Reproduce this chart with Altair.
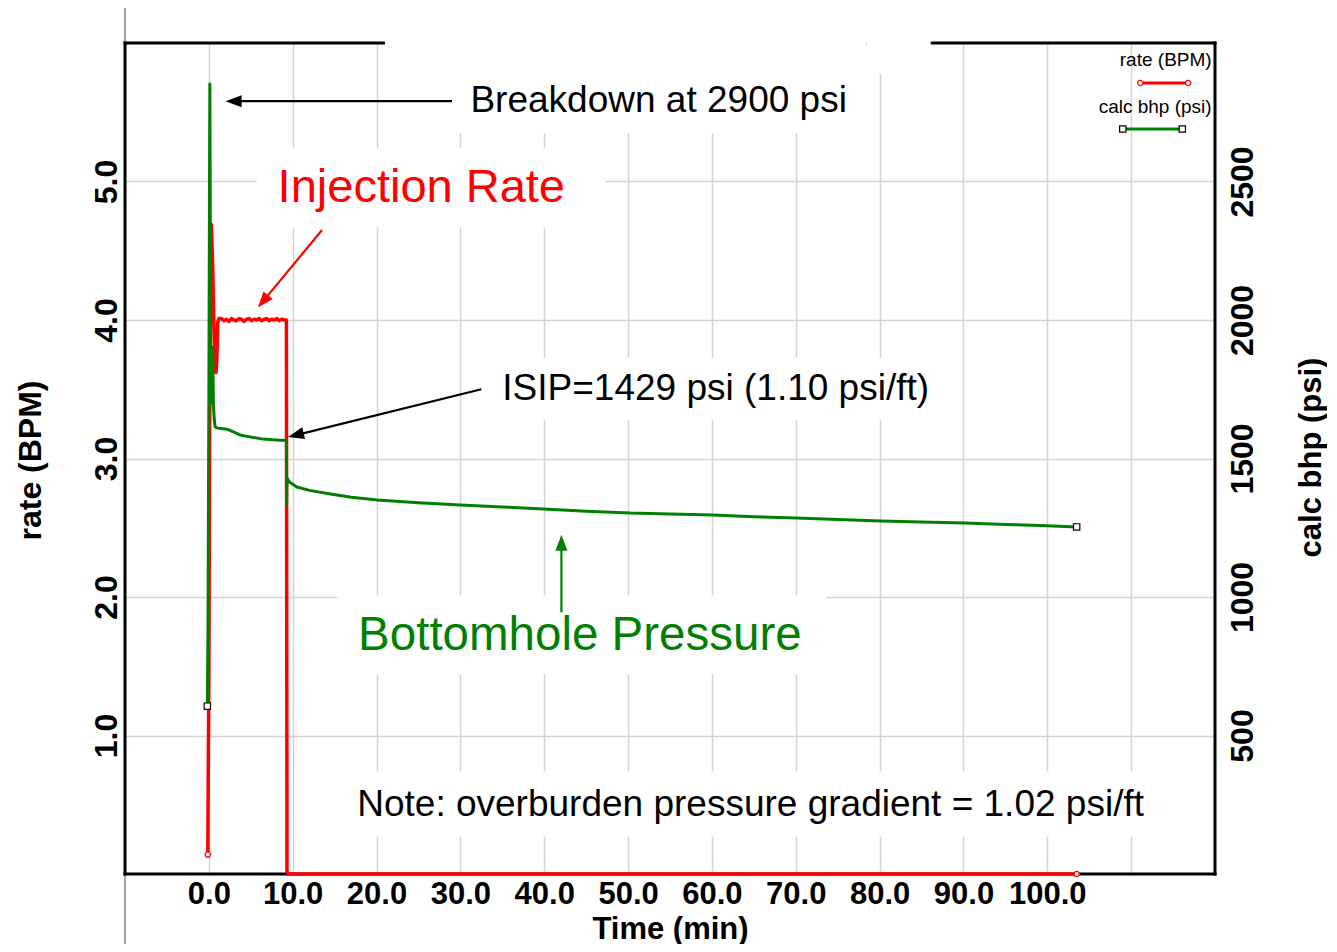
import math
import altair as alt
import pandas as pd

FONT = "Liberation Sans"
RED = "#ff0000"
GREEN = "#008000"
GRID = "#d4d4d4"

W, H = 1090, 831
T_MIN, T_MAX = -10, 120
R_MAX = 6.0
P_MAX = 3000

# ---------------- data ----------------
rate_t = [-0.12, -0.08, 0.0, 0.10, 0.20, 0.30, 0.45, 0.60, 0.75, 0.85, 0.95, 1.05, 1.2,
          1.5, 1.8, 2.1, 2.4, 2.7, 3.0, 3.3, 3.6, 3.9, 4.2, 4.5, 4.8, 5.1, 5.4, 5.7,
          6.0, 6.3, 6.6, 6.9, 7.2, 7.5, 7.8, 8.1, 8.4, 8.7, 9.0, 9.25, 9.32, 9.45, 9.6,
          103.5]
rate_v = [0.14, 0.65, 1.40, 3.20, 4.40, 4.69, 4.40, 3.95, 3.65, 3.62, 3.70, 3.98, 4.01,
          4.01, 3.995, 4.005, 3.99, 4.01, 4.00, 3.995, 4.01, 4.005, 3.99, 4.005, 4.01, 3.995, 4.005, 4.00,
          4.01, 3.995, 4.005, 4.01, 3.995, 4.005, 4.00, 4.01, 3.995, 4.005, 4.00, 4.00, 0.02, 0.0, 0.0,
          0.0]

bhp_t = [-0.18, -0.10, 0.0, 0.08, 0.12, 0.16, 0.22, 0.30, 0.38, 0.45, 0.55, 0.65, 0.75,
         1.0, 2.15, 3.0, 3.7, 4.9, 6.45, 8.0, 9.25, 9.28, 9.32, 9.6, 10.5, 12.0, 14.5,
         17.0, 20.1, 25.0, 30.0, 35.0, 39.9, 45.0, 50.3, 55.0, 60.1, 65.0, 70.1, 75.0,
         80.2, 85.0, 90.2, 95.0, 100.0, 103.5]
bhp_v = [606, 900, 1700, 2500, 2852, 2500, 1800, 1700, 1750, 1902, 1690, 1640, 1614,
         1610, 1606, 1595, 1585, 1578, 1570, 1567, 1565, 1332, 1430, 1415, 1397, 1385, 1372,
         1360, 1350, 1340, 1332, 1325, 1318, 1310, 1303, 1300, 1296, 1290, 1285, 1280,
         1274, 1271, 1267, 1262, 1257, 1253]

x_ticks = [0, 10, 20, 30, 40, 50, 60, 70, 80, 90, 100, 110]
rate_ticks = [1, 2, 3, 4, 5]
bhp_ticks = [500, 1000, 1500, 2000, 2500]

# annotation texts (position in time / rate units)
ann_text = ["Breakdown at 2900 psi", "Injection Rate", "ISIP=1429 psi (1.10 psi/ft)",
            "Bottomhole Pressure", "Note: overburden pressure gradient = 1.02 psi/ft"]
ann_t = [31.2, 8.2, 35.0, 17.8, 17.7]
ann_r = [5.58, 4.95, 3.50, 1.72, 0.50]
ann_size = [37, 47, 37, 47.5, 37]
ann_color = ["black", RED, "black", GREEN, "black"]

# arrows (tail -> tip)
arr_tail_t = [29.0, 13.5, 32.5, 42.05]
arr_tail_r = [5.58, 4.65, 3.50, 1.89]
arr_tip_t = [2.0, 5.85, 9.45, 42.05]
arr_tip_r = [5.58, 4.09, 3.155, 2.45]
arr_color = ["black", RED, "black", GREEN]

# white label boxes hiding the grid
box_t1 = [21.0, 78.4, 5.7, 31.2, 15.3, 15.6]
box_t2 = [78.4, 86.1, 47.3, 87.3, 73.6, 114.2]
box_r1 = [5.35, 5.78, 4.67, 3.28, 1.44, 0.27]
box_r2 = [6.10, 6.10, 5.24, 3.73, 2.01, 0.74]

# legend
leg_text = ["rate (BPM)", "calc bhp (psi)"]
leg_text_t = [119.6, 119.6]
leg_text_r = [5.877, 5.538]
leg_line_t1 = [111.1, 109.0]
leg_line_t2 = [116.8, 116.1]
leg_line_r = [5.711, 5.379]

# ---------------- scales / axes ----------------
xs = alt.Scale(domain=[T_MIN, T_MAX], nice=False, zero=False)
rs = alt.Scale(domain=[0, R_MAX], nice=False, zero=False)
ps = alt.Scale(domain=[0, P_MAX], nice=False, zero=False)

x_axis = alt.Axis(
    values=x_ticks, labelExpr="datum.value > 100 ? '' : format(datum.value, '.1f')",
    grid=True, gridColor=GRID, gridWidth=1.5, ticks=False, domain=False,
    labelFont=FONT, labelFontWeight="bold", labelFontSize=31, labelColor="black",
    labelPadding=5, labelFlush=False, labelOverlap=False, labelBaseline="top",
    title="Time (min)", titleFont=FONT, titleFontWeight="bold", titleFontSize=31,
    titleColor="black", titleX=545, titleY=55, titleAlign="center", titleBaseline="middle",
    titleAnchor="middle",
)
r_axis = alt.Axis(
    values=rate_ticks, format=".1f", orient="left",
    grid=True, gridColor=GRID, gridWidth=1.5, ticks=False, domain=False,
    labelFont=FONT, labelFontWeight="bold", labelFontSize=32, labelColor="black",
    labelAngle=-90, labelAlign="center", labelBaseline="alphabetic", labelPadding=9,
    labelFlush=False, labelOverlap=False,
    title="rate (BPM)", titleFont=FONT, titleFontWeight="bold", titleFontSize=32,
    titleColor="black", titleAngle=-90, titleX=-95, titleY=417, titleAlign="center",
    titleBaseline="middle",
)
p_axis = alt.Axis(
    values=bhp_ticks, format="d", orient="right",
    grid=False, ticks=False, domain=False,
    labelFont=FONT, labelFontWeight="bold", labelFontSize=32, labelColor="black",
    labelAngle=-90, labelAlign="center", labelBaseline="alphabetic", labelPadding=37,
    labelFlush=False, labelOverlap=False,
    title="calc bhp (psi)", titleFont=FONT, titleFontWeight="bold", titleFontSize=31,
    titleColor="black", titleAngle=-90, titleX=96, titleY=414, titleAlign="center",
    titleBaseline="middle",
)


def X(f="t"):
    return alt.X(f"{f}:Q", scale=xs, axis=x_axis, title="Time (min)")


def YR(f="r"):
    return alt.Y(f"{f}:Q", scale=rs, axis=r_axis, title="rate (BPM)")


def YP(f="p"):
    return alt.Y(f"{f}:Q", scale=ps, axis=p_axis, title="calc bhp (psi)")


# ---------------- layers ----------------
gray_df = pd.DataFrame({"t": [T_MIN], "r": [-0.6], "r2": [6.27]})
gray = alt.Chart(gray_df).mark_rule(color="#8a8a8a", strokeWidth=1.5).encode(
    x=X(), y=YR(), y2="r2:Q")

frame_df = pd.DataFrame({
    "t": [T_MIN, T_MAX, T_MIN, T_MIN],
    "t2": [T_MIN, T_MAX, T_MAX, T_MAX],
    "r": [0, 0, 0, R_MAX],
    "r2": [R_MAX, R_MAX, 0, R_MAX],
})
frame = alt.Chart(frame_df).mark_rule(color="black", strokeWidth=3, strokeCap="square").encode(
    x=X(), x2="t2:Q", y=YR(), y2="r2:Q")

box_df = pd.DataFrame({"t": box_t1, "t2": box_t2, "r": box_r1, "r2": box_r2})
boxes = alt.Chart(box_df).mark_rect(color="white").encode(
    x=X(), x2="t2:Q", y=YR(), y2="r2:Q")

rate_df = pd.DataFrame({"t": rate_t, "r": rate_v, "i": list(range(len(rate_t)))})
rate_line = alt.Chart(rate_df).mark_line(color=RED, strokeWidth=3.5, strokeJoin="round").encode(
    x=X(), y=YR(), order="i:Q")

rate_pts_df = pd.DataFrame({"t": [rate_t[0], rate_t[-1]], "r": [rate_v[0], rate_v[-1]]})
rate_pts = alt.Chart(rate_pts_df).mark_point(
    shape="circle", filled=True, fill="white", stroke=RED, strokeWidth=1.3, size=28, opacity=1
).encode(x=X(), y=YR())

leg_txt_df = pd.DataFrame({"t": leg_text_t, "r": leg_text_r, "txt": leg_text})
leg_txt = alt.Chart(leg_txt_df).mark_text(
    font=FONT, fontSize=19, align="right", baseline="middle", color="black"
).encode(x=X(), y=YR(), text="txt:N")

leg_red_df = pd.DataFrame({"t": [leg_line_t1[0]], "t2": [leg_line_t2[0]], "r": [leg_line_r[0]]})
leg_red = alt.Chart(leg_red_df).mark_rule(color=RED, strokeWidth=3).encode(
    x=X(), x2="t2:Q", y=YR())
leg_red_pts_df = pd.DataFrame({"t": [leg_line_t1[0], leg_line_t2[0]], "r": [leg_line_r[0]] * 2})
leg_red_pts = alt.Chart(leg_red_pts_df).mark_point(
    shape="circle", filled=True, fill="white", stroke=RED, strokeWidth=1.3, size=28, opacity=1
).encode(x=X(), y=YR())

leg_green_df = pd.DataFrame({"t": [leg_line_t1[1]], "t2": [leg_line_t2[1]], "r": [leg_line_r[1]]})
leg_green = alt.Chart(leg_green_df).mark_rule(color=GREEN, strokeWidth=3).encode(
    x=X(), x2="t2:Q", y=YR())
leg_green_pts_df = pd.DataFrame({"t": [leg_line_t1[1], leg_line_t2[1]], "r": [leg_line_r[1]] * 2})
leg_green_pts = alt.Chart(leg_green_pts_df).mark_point(
    shape="square", filled=True, fill="white", stroke="black", strokeWidth=1.2, size=40, opacity=1
).encode(x=X(), y=YR())

ann_df = pd.DataFrame({"t": ann_t, "r": ann_r, "txt": ann_text, "size": ann_size, "col": ann_color})
ann = alt.Chart(ann_df).mark_text(font=FONT, align="left", baseline="middle").encode(
    x=X(), y=YR(), text="txt:N",
    size=alt.Size("size:Q", scale=None, legend=None),
    color=alt.Color("col:N", scale=None, legend=None))

px_t = W / (T_MAX - T_MIN)
px_r = H / R_MAX
HEAD = 16.0
rows_line, rows_head = [], []
for t0, r0, t1, r1, c in zip(arr_tail_t, arr_tail_r, arr_tip_t, arr_tip_r, arr_color):
    dx = (t1 - t0) * px_t
    dy = -(r1 - r0) * px_r
    ln = math.hypot(dx, dy)
    ang = math.degrees(math.atan2(dx, -dy)) % 360
    back = HEAD * 0.7
    te = t1 - dx / ln * back / px_t
    re_ = r1 + dy / ln * back / px_r
    rows_line.append({"t": t0, "r": r0, "t2": te, "r2": re_, "col": c})
    rows_head.append({"t": t1, "r": r1, "ang": ang, "col": c})

arr_line = alt.Chart(pd.DataFrame(rows_line)).mark_rule(strokeWidth=2.2).encode(
    x=X(), y=YR(), x2="t2:Q", y2="r2:Q",
    color=alt.Color("col:N", scale=None, legend=None))
arr_head = alt.Chart(pd.DataFrame(rows_head)).mark_point(
    shape="M0,0L-0.75,2L0.75,2Z", filled=True, size=HEAD ** 2, opacity=1, strokeWidth=0
).encode(
    x=X(), y=YR(), angle=alt.Angle("ang:Q", scale=None),
    color=alt.Color("col:N", scale=None, legend=None))

rate_group = alt.layer(gray, frame, boxes, rate_line, rate_pts, leg_red, leg_red_pts,
                       leg_green, leg_green_pts, leg_txt, ann, arr_line, arr_head)

bhp_df = pd.DataFrame({"t": bhp_t, "p": bhp_v, "i": list(range(len(bhp_t)))})
bhp_line = alt.Chart(bhp_df).mark_line(color=GREEN, strokeWidth=3, strokeJoin="round").encode(
    x=X(), y=YP(), order="i:Q")
bhp_pts_df = pd.DataFrame({"t": [bhp_t[0], bhp_t[-1]], "p": [bhp_v[0], bhp_v[-1]]})
bhp_pts = alt.Chart(bhp_pts_df).mark_point(
    shape="square", filled=True, fill="white", stroke="black", strokeWidth=1.2, size=40, opacity=1
).encode(x=X(), y=YP())
bhp_group = alt.layer(bhp_line, bhp_pts)

chart = alt.layer(rate_group, bhp_group).resolve_scale(y="independent").properties(
    width=W, height=H,
    autosize=alt.AutoSizeParams(type="none"),
    padding={"left": 117, "top": 35, "right": 112, "bottom": 70},
    background="white",
).configure_view(stroke=None)

chart.save("out.html", embed_options={"renderer": "svg", "actions": False})
